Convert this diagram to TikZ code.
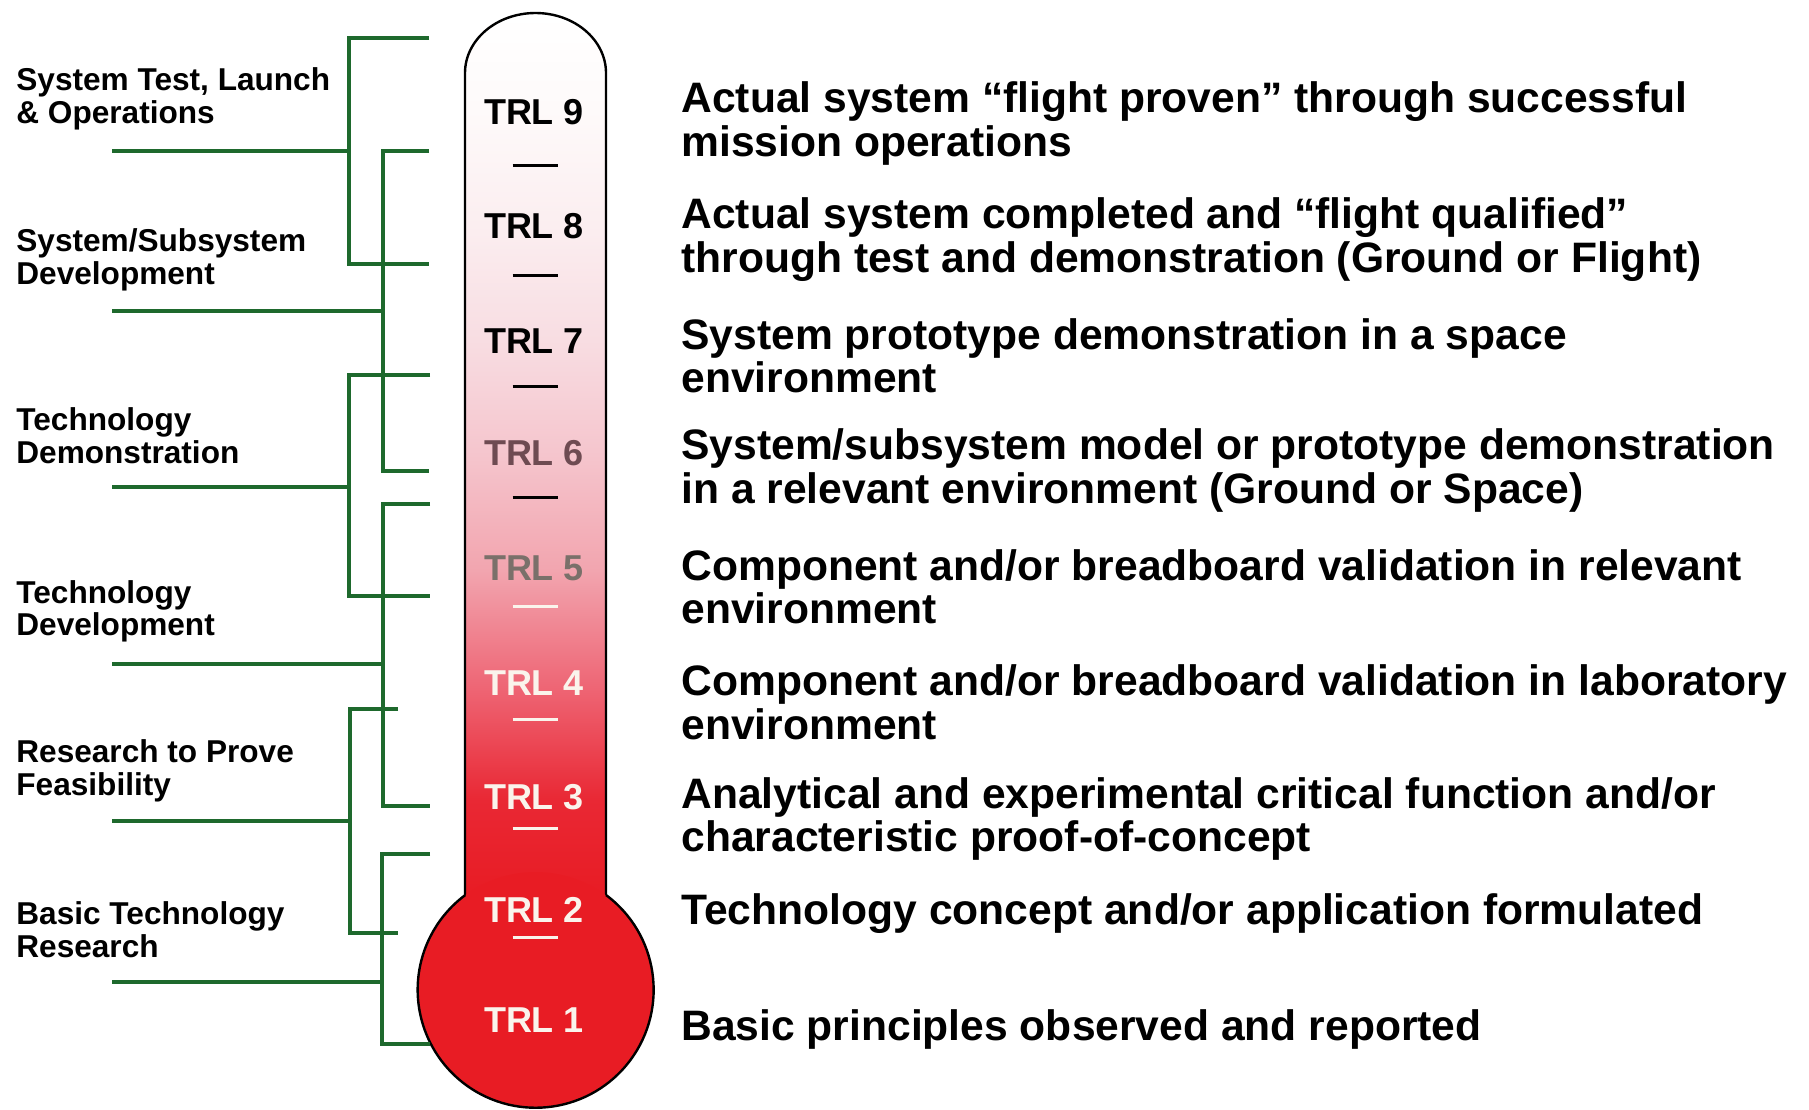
\documentclass[tikz,border=0pt]{standalone}
\usepackage{fontspec}
\setmainfont{Liberation Sans}
\definecolor{tgreen}{RGB}{30,105,45}
\definecolor{tred}{RGB}{232,28,36}
\definecolor{sA}{RGB}{233,40,52}
\definecolor{sB}{RGB}{238,100,115}
\definecolor{sC}{RGB}{242,165,175}
\definecolor{sD}{RGB}{245,197,205}
\definecolor{sE}{RGB}{248,221,226}
\definecolor{sF}{RGB}{251,238,240}
\definecolor{sG}{RGB}{254,250,250}
\definecolor{trlsix}{RGB}{110,75,82}
\definecolor{trlfive}{RGB}{122,112,106}
\definecolor{cream}{RGB}{250,244,236}
\pgfdeclareverticalshading{thermo}{100bp}{color(0bp)=(tred); color(25bp)=(tred); color(30.39bp)=(sA); color(36.62bp)=(sB); color(43.42bp)=(sC); color(49.94bp)=(sD); color(56.46bp)=(sE); color(62.98bp)=(sF); color(69.5bp)=(sG); color(75bp)=(white); color(100bp)=(white)}
\begin{document}
\begin{tikzpicture}[x=0.5pt,y=0.5pt,
  grp/.style={font=\bfseries\fontsize{15.8pt}{16.25pt}\selectfont, align=left, anchor=west, inner sep=0pt},
  desc/.style={font=\bfseries\fontsize{21.3pt}{21.75pt}\selectfont, align=left, anchor=west, inner sep=0pt},
  trl/.style={font=\bfseries\fontsize{18pt}{18pt}\selectfont, inner sep=0pt},
  bracket/.style={draw=tgreen, line width=2pt},
  tick/.style={line width=1.5pt},
  outline/.style={draw=black, line width=1.2pt}]
\useasboundingbox (0,0) rectangle (1809,-1109);
\fill[white] (0,0) rectangle (1809,-1109);

% thermometer tube
\path[shading=thermo] (465,-895) -- (465,-73) arc[start angle=180, end angle=0, x radius=70.5, y radius=60] -- (606,-895) -- cycle;
\draw[outline] (465,-895) -- (465,-73) arc[start angle=180, end angle=0, x radius=70.5, y radius=60] -- (606,-895);
% bulb
\fill[tred] (535.5,-990) circle[radius=118];
\draw[outline] (606,-895) arc[start angle=53.4, end angle=-233.4, radius=118];

% TRL labels
\node[trl, text=black] (trl9) at (534,-112) {TRL 9};
\node[trl, text=black] (trl8) at (534,-226) {TRL 8};
\node[trl, text=black] (trl7) at (534,-341) {TRL 7};
\node[trl, text=trlsix] (trl6) at (534,-453) {TRL 6};
\node[trl, text=trlfive] (trl5) at (534,-568) {TRL 5};
\node[trl, text=cream] (trl4) at (534,-683) {TRL 4};
\node[trl, text=cream] (trl3) at (534,-797) {TRL 3};
\node[trl, text=cream] (trl2) at (534,-910) {TRL 2};
\node[trl, text=cream] (trl1) at (534,-1020) {TRL 1};

% separator ticks
\foreach \yy in {165,275,386,497} \draw[tick, black] (512.5,-\yy) -- (557.5,-\yy);
\foreach \yy in {606,719,828,937} \draw[tick, cream] (512.5,-\yy) -- (557.5,-\yy);

% descriptions
\node[desc] (d9) at (681,-123.5) {Actual system “flight proven” through successful\\mission operations};
\node[desc] (d8) at (681,-239.5) {Actual system completed and “flight qualified”\\through test and demonstration (Ground or Flight)};
\node[desc] (d7) at (681,-356) {System prototype demonstration in a space\\environment};
\node[desc] (d6) at (681,-470.5) {System/subsystem model or prototype demonstration\\in a relevant environment (Ground or Space)};
\node[desc] (d5) at (681,-587) {Component and/or breadboard validation in relevant\\environment};
\node[desc] (d4) at (681,-702.5) {Component and/or breadboard validation in laboratory\\environment};
\node[desc] (d3) at (681,-819) {Analytical and experimental critical function and/or\\characteristic proof-of-concept};
\node[desc] (d2) at (681,-914) {Technology concept and/or application formulated};
\node[desc] (d1) at (681,-1029) {Basic principles observed and reported};

% group labels
\node[grp] (gA) at (16,-99) {System Test, Launch\\\& Operations};
\node[grp] (gB) at (16,-260) {System/Subsystem\\Development};
\node[grp] (gC) at (16,-435.5) {Technology\\Demonstration};
\node[grp] (gD) at (16,-611.5) {Technology\\Development};
\node[grp] (gE) at (16,-771) {Research to Prove\\Feasibility};
\node[grp] (gF) at (16,-929.5) {Basic Technology\\Research};

% bracket coordinates
\coordinate (At) at (429,-38);  \coordinate (Ab) at (429,-264); \coordinate (Aj) at (349,-151); \coordinate (Al) at (112,-151);
\coordinate (Bt) at (429,-151); \coordinate (Bb) at (429,-471); \coordinate (Bj) at (383,-311); \coordinate (Bl) at (112,-311);
\coordinate (Ct) at (430,-375); \coordinate (Cb) at (430,-596); \coordinate (Cj) at (349,-487); \coordinate (Cl) at (112,-487);
\coordinate (Dt) at (430,-504); \coordinate (Db) at (430,-806); \coordinate (Dj) at (383,-664); \coordinate (Dl) at (112,-664);
\coordinate (Et) at (398,-709); \coordinate (Eb) at (398,-933); \coordinate (Ej) at (350,-821); \coordinate (El) at (112,-821);
\coordinate (Ft) at (430,-854); \coordinate (Fb) at (430,-1044); \coordinate (Fj) at (382,-982); \coordinate (Fl) at (112,-982);

\foreach \g in {A,B,C,D,E,F}{
  \draw[bracket] (\g t) -| (\g j) |- (\g b);
  \draw[bracket] (\g l) -- (\g j);
}
\end{tikzpicture}
\end{document}
